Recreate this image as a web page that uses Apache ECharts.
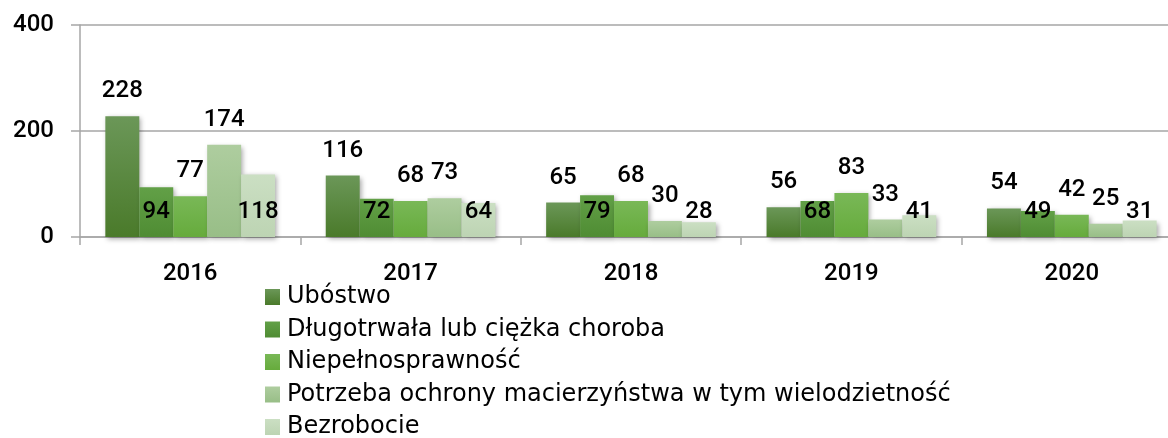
<!DOCTYPE html>
<html>
<head>
<meta charset="utf-8">
<script src="https://cdn.jsdelivr.net/npm/echarts@6/dist/echarts.min.js"></script>
<style>
  html, body { margin: 0; padding: 0; background: #fff; }
  #chart { width: 1168px; height: 438px; }
</style>
</head>
<body>
<div id="chart"></div>
<script>
const years = ['2016', '2017', '2018', '2019', '2020'];
const seriesNames = [
  'Ubóstwo',
  'Długotrwała lub ciężka choroba',
  'Niepełnosprawność',
  'Potrzeba ochrony macierzyństwa w tym wielodzietność',
  'Bezrobocie'
];
const ubostwo = [228, 116, 65, 56, 54];
const choroba = [94, 72, 79, 68, 49];
const niepelnosprawnosc = [77, 68, 68, 83, 42];
const macierzynstwo = [174, 73, 30, 33, 25];
const bezrobocie = [118, 64, 28, 41, 31];
const yTicks = [0, 200, 400];

const values = [ubostwo, choroba, niepelnosprawnosc, macierzynstwo, bezrobocie];
// top / bottom gradient colours per series
const colours = [
  ['#6b9758', '#4a7a2a'],
  ['#62a047', '#4f8c33'],
  ['#79b857', '#66ab3c'],
  ['#aecd9f', '#98be87'],
  ['#cbdfc3', '#bdd4b3']
];
// labels of 2nd and 5th series sit low inside the bar
const lowLabel = [false, true, false, false, true];

const numFont = { fontFamily: 'Roboto', fontWeight: 500, fontSize: 24, color: '#000' };

const chart = echarts.init(document.getElementById('chart'));

// plot runs past the right edge of the picture, as in the original
chart.setOption({
  animation: false,
  grid: { left: 80, width: 1102, top: 25, bottom: 201, containLabel: false, outerBoundsMode: 'none' },
  legend: {
    orient: 'vertical',
    left: 265,
    top: 285,
    height: 300,
    padding: 0,
    itemWidth: 15,
    itemHeight: 16,
    itemGap: 8.5,
    icon: 'rect',
    textStyle: { fontFamily: 'DejaVu Sans', fontSize: 24, color: '#000', lineHeight: 24, padding: [0, 0, 0, 2] },
    data: seriesNames
  },
  xAxis: {
    type: 'category',
    data: years,
    axisLine: { lineStyle: { color: '#a6a6a6', width: 1.5 } },
    axisTick: { show: true, length: 8, lineStyle: { color: '#a6a6a6', width: 1.5 } },
    axisLabel: Object.assign({ margin: 25 }, numFont)
  },
  yAxis: {
    type: 'value',
    min: 0,
    max: yTicks[yTicks.length - 1],
    interval: yTicks[1] - yTicks[0],
    axisLine: { show: true, lineStyle: { color: '#a6a6a6', width: 1.5 } },
    axisTick: { show: true, length: 9, lineStyle: { color: '#a6a6a6', width: 1.5 } },
    splitLine: { lineStyle: { color: '#a6a6a6', width: 1.5 } },
    axisLabel: Object.assign({ margin: 26 }, numFont)
  },
  series: values.map((data, i) => ({
    name: seriesNames[i],
    type: 'bar',
    data: data,
    barGap: '0%',
    barCategoryGap: '23%',
    itemStyle: {
      color: new echarts.graphic.LinearGradient(0, 0, 0, 1, [
        { offset: 0, color: colours[i][0] },
        { offset: 1, color: colours[i][1] }
      ]),
      shadowBlur: 5,
      shadowOffsetX: 2,
      shadowOffsetY: 2,
      shadowColor: 'rgba(0,0,0,0.35)'
    },
    label: Object.assign({
      show: true,
      position: lowLabel[i] ? 'insideBottom' : 'top',
      distance: 13
    }, numFont)
  }))
});
</script>
</body>
</html>
